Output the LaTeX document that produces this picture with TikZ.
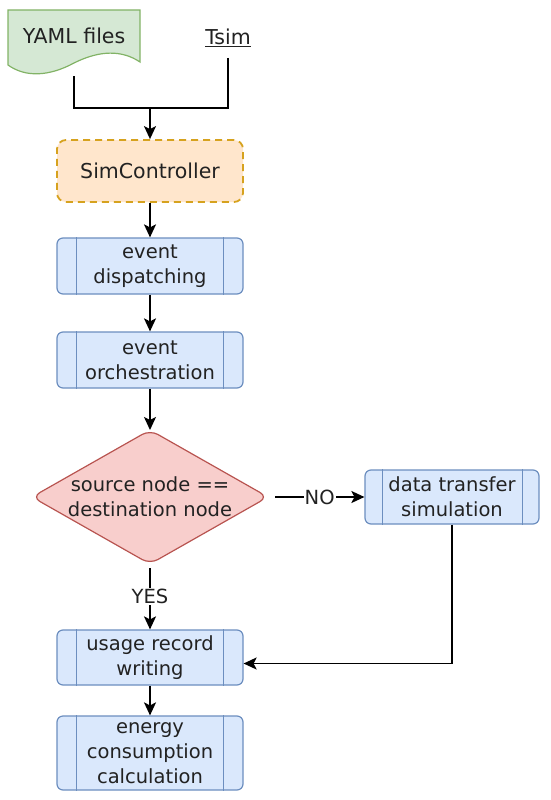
\documentclass[tikz,border=0pt]{standalone}
\usepackage{fontspec}
\setmainfont{DejaVu Sans}
\usetikzlibrary{arrows.meta,calc}
\definecolor{blueFill}{HTML}{DAE8FC}
\definecolor{blueLine}{HTML}{6C8EBF}
\definecolor{greenFill}{HTML}{D5E8D4}
\definecolor{greenLine}{HTML}{82B366}
\definecolor{orangeFill}{HTML}{FFE6CC}
\definecolor{orangeLine}{HTML}{D6A21E}
\definecolor{redFill}{HTML}{F8CECC}
\definecolor{redLine}{HTML}{B85450}
\definecolor{txt}{HTML}{222222}
\begin{document}
\begin{tikzpicture}[x=1pt,y=-1pt,
  every node/.style={text=txt},
  bigtxt/.style={font=\fontsize{20.5}{25}\selectfont},
  boxtxt/.style={font=\fontsize{19.5}{25}\selectfont, align=center},
  procbox/.style={draw=blueLine, fill=blueFill, line width=1.2pt, rounded corners=6pt,
    minimum width=186pt, inner sep=0pt, boxtxt},
  conn/.style={line width=1.6pt, draw=black},
  arr/.style={conn, -{Stealth[length=13pt,width=12pt,inset=3pt]}},
  lbl/.style={fill=white, inner sep=1pt, font=\fontsize{19.5}{22}\selectfont}
]
\useasboundingbox (0,0) rectangle (550,800);

% YAML files document shape
\draw[draw=greenLine, fill=greenFill, line width=1.2pt]
  (8,10) -- (140,10) -- (140,62)
  .. controls (122,50) and (100,50) .. (74,63)
  .. controls (50,76) and (26,78) .. (8,65) -- cycle;
\node[bigtxt] (yaml) at (74,36) {YAML files};
\coordinate (yamlb) at (74,76);

% Tsim
\node[bigtxt, inner sep=0pt] (tsim) at (228,38) {\underline{Tsim}};
\coordinate (tsimb) at (228,58);
\coordinate (join) at (150,108);

% SimController
\node[draw=orangeLine, fill=orangeFill, dashed, dash pattern=on 7pt off 5pt,
  line width=1.8pt, rounded corners=9pt, minimum width=186pt, minimum height=62pt,
  bigtxt] (sim) at (150,171) {SimController};

% process boxes
\node[procbox, minimum height=56pt] (disp) at (150,266) {event\\dispatching};
\node[procbox, minimum height=56pt] (orch) at (150,360) {event\\orchestration};
\node[procbox, minimum height=55pt] (usage) at (150,657.5) {usage record\\writing};
\node[procbox, minimum height=74pt] (energy) at (150,753) {energy\\consumption\\calculation};
\node[procbox, minimum width=174pt, minimum height=54pt] (dts) at (452,497) {data transfer\\simulation};

\foreach \n in {disp,orch,usage,energy}{
  \draw[draw=blueLine, line width=1.2pt] ([xshift=20pt]\n.north west) -- ([xshift=20pt]\n.south west);
  \draw[draw=blueLine, line width=1.2pt] ([xshift=-20pt]\n.north east) -- ([xshift=-20pt]\n.south east);
}
\draw[draw=blueLine, line width=1.2pt] ([xshift=18pt]dts.north west) -- ([xshift=18pt]dts.south west);
\draw[draw=blueLine, line width=1.2pt] ([xshift=-17pt]dts.north east) -- ([xshift=-17pt]dts.south east);

% decision diamond
\coordinate (dT) at (150,430);
\coordinate (dR) at (268,497);
\coordinate (dB) at (150,564);
\coordinate (dL) at (32,497);
\draw[draw=redLine, fill=redFill, line width=1.2pt, rounded corners=9pt]
  (dL) -- (dT) -- (dR) -- (dB) -- cycle;
\node[boxtxt] (dec) at (150,497) {source node ==\\destination node};

% connectors
\draw[conn] (yamlb) |- (join);
\draw[conn] (tsimb) |- (join);
\draw[arr] (join) -- (sim.north);
\draw[arr] (sim.south) -- (disp.north);
\draw[arr] (disp.south) -- (orch.north);
\draw[arr] (orch.south) -- (dT);
\draw[arr] ([xshift=7pt]dR) -- node[lbl] {NO} (dts.west);
\draw[arr] ([yshift=-4pt]dB) -- node[lbl, pos=0.47] {YES} (usage.north);
\draw[arr] (dts.south) |- ([yshift=-6pt]usage.east);
\draw[arr] (usage.south) -- (energy.north);
\end{tikzpicture}
\end{document}
